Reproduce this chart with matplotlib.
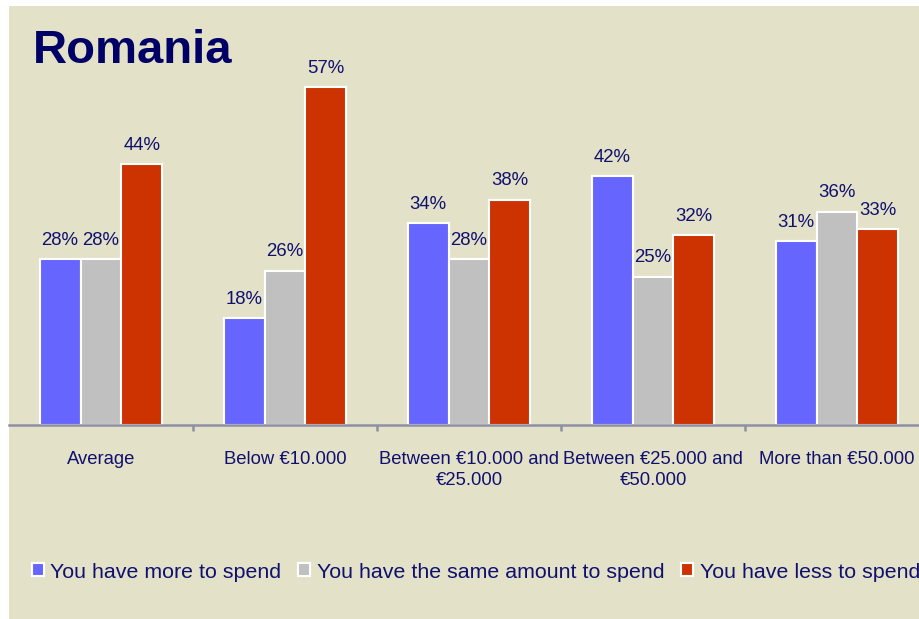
import matplotlib
matplotlib.use('Agg')
import matplotlib.pyplot as plt
from matplotlib.patches import Rectangle
import numpy as np

plt.rcParams['font.family'] = ['Liberation Sans', 'DejaVu Sans']

# --- Data ---
categories = ['Average', 'Below €10.000', 'Between €10.000 and\n€25.000',
              'Between €25.000 and\n€50.000', 'More than €50.000']
more_to_spend = [28, 18, 34, 42, 31]
same_to_spend = [28, 26, 28, 25, 36]
less_to_spend = [44, 57, 38, 32, 33]
series_names = ['You have more to spend', 'You have the same amount to spend',
                'You have less to spend']
series_colors = ['#6666FF', '#C0C0C0', '#CC3300']

BG = '#E3E2C9'
TEXT = '#10106E'

W, H = 920, 619
fig = plt.figure(figsize=(W / 100, H / 100), dpi=100, facecolor='white')
fig.patches.append(Rectangle((9 / W, 0), 1, (H - 6) / H, transform=fig.transFigure,
                             facecolor=BG, edgecolor='none', zorder=-10))

# axes: left 9px, baseline at y=425px, 5.93 px per percent
base = (H - 425) / H
top_pct = 70
ax = fig.add_axes([9 / W, base, (W - 9) / W, top_pct * 5.93 / H])
ax.patch.set_visible(False)

x = np.arange(len(categories))
bw = 0.2228
offsets = [-bw, 0, bw]
for vals, off, col, name in zip([more_to_spend, same_to_spend, less_to_spend],
                                offsets, series_colors, series_names):
    bars = ax.bar(x + off, vals, width=bw, color=col, edgecolor='white',
                  linewidth=1.5, label=name, zorder=2)
    for b, v in zip(bars, vals):
        ax.annotate(f'{v}%', (b.get_x() + b.get_width() / 2, v),
                    xytext=(0, 7.5), textcoords='offset points',
                    ha='center', va='bottom', fontsize=13.4, color=TEXT)

ax.set_xlim(-0.5, -0.5 + (W - 9) / 184)
ax.set_ylim(0, top_pct)

for s in ['top', 'right', 'left']:
    ax.spines[s].set_visible(False)
ax.spines['bottom'].set_color('#8F8FA3')
ax.spines['bottom'].set_linewidth(1.8)
ax.set_yticks([])

ax.set_xticks(x)
ax.set_xticklabels(categories, fontsize=13.3, color=TEXT, linespacing=1.25)
ax.tick_params(axis='x', which='major', length=0, pad=19)
ax.set_xticks(np.arange(0.5, 4, 1), minor=True)
ax.tick_params(axis='x', which='minor', length=4, width=1.8, color='#8F8FA3',
               direction='out')

fig.text(33 / W, (H - 63) / H, 'Romania', fontsize=34, fontweight='bold',
         color='#000066', va='baseline', ha='left')

leg = fig.legend(loc='center', bbox_to_anchor=(476 / W, 47 / H), ncol=3,
                 frameon=False, fontsize=15.4, handlelength=0.55, handleheight=0.55,
                 handletextpad=0.3, columnspacing=0.8, borderaxespad=0)
for t in leg.get_texts():
    t.set_color(TEXT)

fig.savefig('out.png', dpi=100, facecolor='white')
